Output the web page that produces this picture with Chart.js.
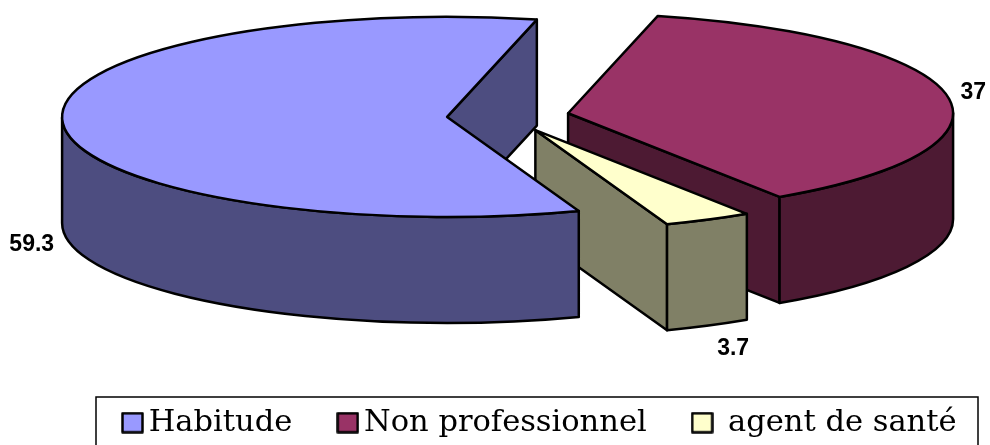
<!DOCTYPE html>
<html>
<head>
<meta charset="utf-8">
<script src="https://cdn.jsdelivr.net/npm/chart.js@4"></script>
<style>
  html, body { margin: 0; padding: 0; background: #fff; overflow: hidden; }
  canvas { display: block; }
</style>
</head>
<body>
<canvas id="chartPie" width="990" height="445"></canvas>
<script>
const categories = ['Habitude', 'Non professionnel', ' agent de santé'];
const values = [59.3, 37, 3.7];
const topColors = ['#9999FF', '#993366', '#FFFFCC'];
const sideColors = ['#4D4D80', '#4D1A33', '#808066'];

// fake 3D view: the pie is flattened and moved here, the library's arcs stay as they are
const view = { x: 508, y: 116, flat: 0.26, depth: 106, explode: 61, line: 2.5 };
// where each value label sits from the middle of its slice's rim
const labelShift = [[-31, 122], [26, -3], [25, 129]];
// walls are painted back to front
const wallOrder = [1, 2, 0];

function sliceCentre(arc) {
    const mid = (arc.startAngle + arc.endAngle) / 2;
    return {
        x: view.x + Math.cos(mid) * view.explode,
        y: view.y + Math.sin(mid) * view.explode * view.flat
    };
}

function paintFace(ctx, color) {
    ctx.fillStyle = color;
    ctx.fill();
    ctx.stroke();
}

function drawWalls(ctx, arc, color) {
    const c = sliceCentre(arc);
    const r = arc.outerRadius;
    const ry = r * view.flat;

    // straight cut faces, only the ones turned to the viewer
    [[arc.startAngle, -1], [arc.endAngle, 1]].forEach(([angle, side]) => {
        if (Math.cos(angle) * side <= 0) return;
        const px = c.x + Math.cos(angle) * r;
        const py = c.y + Math.sin(angle) * ry;
        ctx.beginPath();
        ctx.moveTo(c.x, c.y);
        ctx.lineTo(px, py);
        ctx.lineTo(px, py + view.depth);
        ctx.lineTo(c.x, c.y + view.depth);
        ctx.closePath();
        paintFace(ctx, color);
    });

    // rounded outside wall, front half of the ellipse only
    let from = arc.startAngle;
    let to = arc.endAngle;
    const turn = Math.PI * 2;
    while (from < 0) { from += turn; to += turn; }
    while (from >= turn) { from -= turn; to -= turn; }
    [[0, Math.PI], [turn, turn + Math.PI]].forEach(([lo, hi]) => {
        const a = Math.max(from, lo);
        const b = Math.min(to, hi);
        if (b <= a) return;
        ctx.beginPath();
        ctx.ellipse(c.x, c.y, r, ry, 0, a, b);
        ctx.ellipse(c.x, c.y + view.depth, r, ry, 0, b, a, true);
        ctx.closePath();
        paintFace(ctx, color);
    });
}

// legend swatch as a small canvas, so the text can sit closer than boxWidth allows
function makeSwatch(color) {
    const box = document.createElement('canvas');
    box.width = 23;
    box.height = 22;
    const g = box.getContext('2d');
    g.fillStyle = color;
    g.strokeStyle = '#000';
    g.lineWidth = 2.5;
    g.lineJoin = 'round';
    g.beginPath();
    g.rect(1.5, 1.5, 20, 19);
    g.fill();
    g.stroke();
    return box;
}

const pie3d = {
    id: 'pie3d',
    beforeDatasetsDraw(chart) {
        const ctx = chart.ctx;
        const arcs = chart.getDatasetMeta(0).data;

        ctx.save();
        ctx.lineWidth = view.line;
        ctx.strokeStyle = '#000';
        ctx.lineJoin = 'round';
        wallOrder.forEach(i => drawWalls(ctx, arcs[i], sideColors[i]));
        ctx.restore();

        arcs.forEach(arc => {
            const c = sliceCentre(arc);
            ctx.save();
            ctx.translate(c.x, c.y);
            ctx.scale(1, view.flat);
            ctx.translate(-arc.x, -arc.y);
            arc.draw(ctx);
            ctx.restore();

            // outline out here so the flattening doesn't thin the line
            ctx.save();
            ctx.lineWidth = view.line;
            ctx.strokeStyle = '#000';
            ctx.lineJoin = 'round';
            ctx.beginPath();
            ctx.moveTo(c.x, c.y);
            ctx.ellipse(c.x, c.y, arc.outerRadius, arc.outerRadius * view.flat, 0, arc.startAngle, arc.endAngle);
            ctx.closePath();
            ctx.stroke();
            ctx.restore();
        });
        return false;
    },
    afterDraw(chart) {
        const ctx = chart.ctx;
        const arcs = chart.getDatasetMeta(0).data;

        ctx.save();
        ctx.fillStyle = '#000';
        ctx.font = 'bold 23px "Liberation Sans", Arial, sans-serif';
        ctx.textAlign = 'center';
        ctx.textBaseline = 'middle';
        arcs.forEach((arc, i) => {
            const c = sliceCentre(arc);
            const mid = (arc.startAngle + arc.endAngle) / 2;
            const x = c.x + Math.cos(mid) * arc.outerRadius + labelShift[i][0];
            const y = c.y + Math.sin(mid) * arc.outerRadius * view.flat + labelShift[i][1];
            ctx.fillText(String(values[i]), x, y);
        });
        ctx.restore();

        // legend frame
        ctx.save();
        ctx.strokeStyle = '#000';
        ctx.lineWidth = 1.5;
        ctx.strokeRect(96, 397, 882, 60);
        ctx.restore();
    }
};

const ctx = document.getElementById('chartPie').getContext('2d');
new Chart(ctx, {
    type: 'pie',
    data: {
        labels: categories,
        datasets: [{
            data: values,
            backgroundColor: topColors,
            borderWidth: 0,
            radius: 385,
            clip: false
        }]
    },
    options: {
        responsive: false,
        animation: false,
        rotation: 160,
        layout: { padding: { left: 98, bottom: -3 } },
        plugins: {
            tooltip: { enabled: false },
            legend: {
                position: 'bottom',
                labels: {
                    color: '#000',
                    font: { family: '"DejaVu Serif", serif', size: 30.5 },
                    usePointStyle: true,
                    pointStyleWidth: 2,
                    padding: 6,
                    generateLabels(chart) {
                        return Chart.overrides.pie.plugins.legend.labels.generateLabels(chart).map((item, i) => {
                            item.pointStyle = makeSwatch(topColors[i]);
                            // trailing spaces keep the items apart, padding would also grow the height
                            item.text = i < categories.length - 1 ? item.text + '     ' : item.text;
                            return item;
                        });
                    }
                }
            }
        }
    },
    plugins: [pie3d]
});
</script>
</body>
</html>
